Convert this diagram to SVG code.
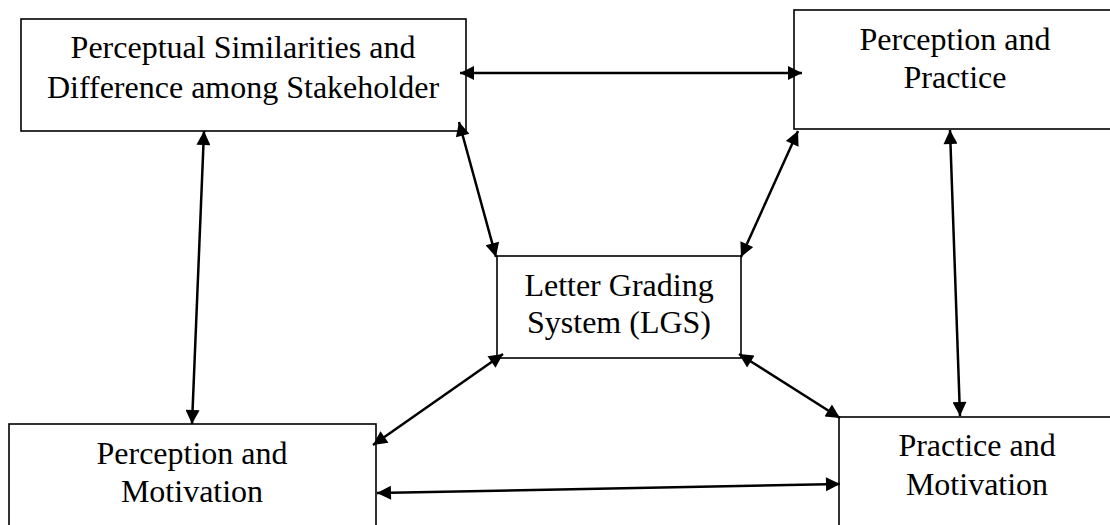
<svg xmlns="http://www.w3.org/2000/svg" width="1110" height="525" viewBox="0 0 1110 525">
<style>
.box{fill:#fff;stroke:#000;stroke-width:1.6}
.t{font-family:"Liberation Serif","Times New Roman",serif;font-size:32px;fill:#000;text-anchor:middle}
.c{stroke:#000;stroke-width:2.5;fill:none;marker-start:url(#a);marker-end:url(#a)}
</style>
<defs>
<marker id="a" viewBox="0 0 10 10" refX="10" refY="5" markerWidth="16" markerHeight="14" markerUnits="userSpaceOnUse" orient="auto-start-reverse">
<path d="M0,0 L10,5 L0,10 Z" fill="#000"/>
</marker>
</defs>
<g id="n1"><rect class="box" x="21" y="19" width="445" height="112"/>
<text class="t" x="243" y="58">Perceptual Similarities and</text>
<text class="t" x="243" y="98">Difference among Stakeholder</text></g>
<g id="n2"><rect class="box" x="794" y="10" width="322" height="119"/>
<text class="t" x="955" y="50">Perception and</text>
<text class="t" x="955" y="88">Practice</text></g>
<g id="n3"><rect class="box" x="497" y="256" width="244" height="102"/>
<text class="t" x="619" y="296">Letter Grading</text>
<text class="t" x="619" y="333">System (LGS)</text></g>
<g id="n4"><rect class="box" x="9" y="424" width="367" height="110"/>
<text class="t" x="192" y="464">Perception and</text>
<text class="t" x="192" y="502">Motivation</text></g>
<g id="n5"><rect class="box" x="839" y="417" width="280" height="120"/>
<text class="t" x="977" y="456">Practice and</text>
<text class="t" x="977" y="495">Motivation</text></g>
<g id="connectors">
<line class="c" x1="460" y1="73" x2="802" y2="73"/>
<line class="c" x1="204" y1="131" x2="192" y2="424"/>
<line class="c" x1="950" y1="130" x2="960" y2="416"/>
<line class="c" x1="459" y1="122" x2="496" y2="257"/>
<line class="c" x1="798" y1="131" x2="741" y2="257"/>
<line class="c" x1="503" y1="354" x2="373" y2="445"/>
<line class="c" x1="739" y1="354" x2="840" y2="418"/>
<line class="c" x1="377" y1="493" x2="840" y2="484"/>
</g>
</svg>
